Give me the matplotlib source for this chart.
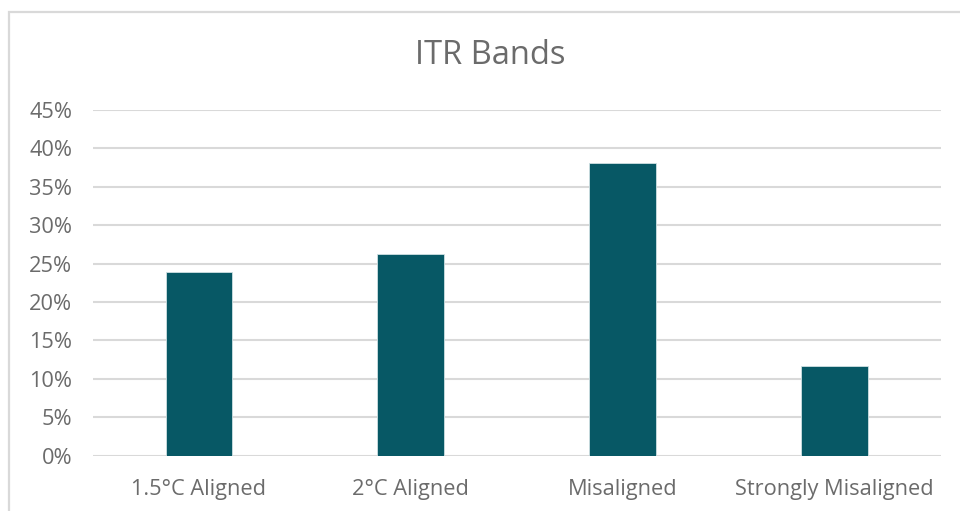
import matplotlib
matplotlib.use("Agg")
import matplotlib.pyplot as plt
from matplotlib.patches import Rectangle
from matplotlib.ticker import FuncFormatter, MultipleLocator

categories = ["1.5°C Aligned", "2°C Aligned", "Misaligned", "Strongly Misaligned"]
shares = [23.9, 26.2, 38.1, 11.7]  # percent of portfolio
title = "ITR Bands"

bar_color = "#075865"
text_color = "#6b6b6b"
grid_color = "#d9d9d9"

plt.rcParams["font.family"] = ["Open Sans", "DejaVu Sans"]

fig = plt.figure(figsize=(9.6, 5.11), dpi=100)
W, H = 960, 511

# outer chart frame (clipped on right and bottom)
fig.patches.append(Rectangle((9 / W, -0.1), 1.2, 1 - 12 / H + 0.1,
                             transform=fig.transFigure, fill=False,
                             edgecolor=grid_color, linewidth=1.6))

ax = fig.add_axes([93 / W, 1 - 455.5 / H, (940.5 - 93) / W, (455.5 - 110) / H])
x = range(len(categories))
ax.bar(x, shares, width=0.315, color=bar_color, edgecolor="#cfe0e3",
       linewidth=0.6, zorder=3)

ax.set_ylim(0, 45)
ax.set_xlim(-0.5, len(categories) - 0.5)
ax.yaxis.set_major_locator(MultipleLocator(5))
ax.yaxis.set_major_formatter(FuncFormatter(lambda v, p: f"{v:.0f}%"))
ax.grid(axis="y", color=grid_color, linewidth=1.5, zorder=0)
ax.set_xticks(list(x))
ax.set_xticklabels(categories)
for s in ax.spines.values():
    s.set_visible(False)
ax.tick_params(axis="both", length=0, labelsize=15.7, labelcolor=text_color)
ax.tick_params(axis="y", pad=15)
ax.tick_params(axis="x", pad=17)

fig.text(490 / W, 1 - 56 / H, title, ha="center", va="center",
         fontsize=23.5, color=text_color)

fig.savefig("out.png", dpi=100)
